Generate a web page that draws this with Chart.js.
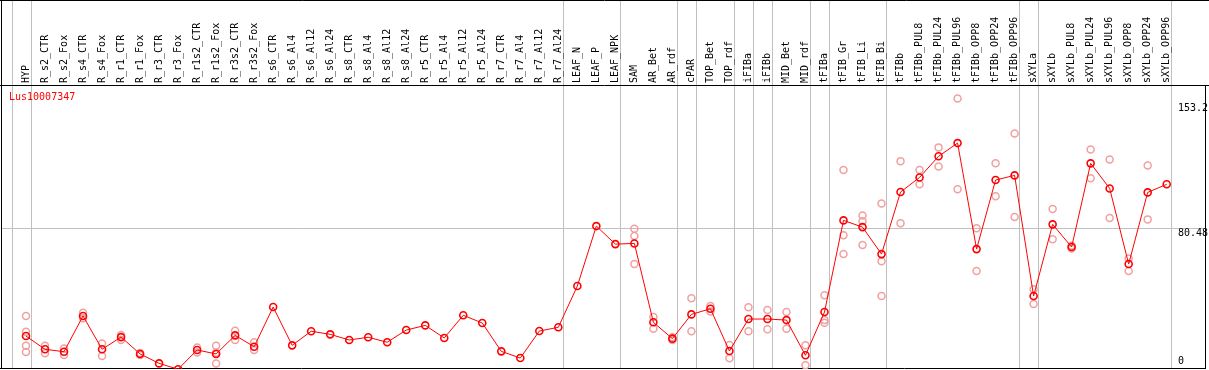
<!DOCTYPE html>
<html>
<head>
<meta charset="utf-8">
<script src="https://cdn.jsdelivr.net/npm/chart.js@4.4.1/dist/chart.umd.min.js"></script>
<style>
  html, body { margin: 0; padding: 0; background: #ffffff; }
  #c { display: block; }
</style>
</head>
<body>
<canvas id="c" width="1209" height="370"></canvas>
<script>
const geneName = "Lus10007347";

const categories = [
  "HYP", "R_s2_CTR", "R_s2_Fox", "R_s4_CTR", "R_s4_Fox", "R_r1_CTR", "R_r1_Fox",
  "R_r3_CTR", "R_r3_Fox", "R_r1s2_CTR", "R_r1s2_Fox", "R_r3s2_CTR", "R_r3s2_Fox",
  "R_s6_CTR", "R_s6_Al4", "R_s6_Al12", "R_s6_Al24", "R_s8_CTR", "R_s8_Al4", "R_s8_Al12",
  "R_s8_Al24", "R_r5_CTR", "R_r5_Al4", "R_r5_Al12", "R_r5_Al24", "R_r7_CTR", "R_r7_Al4",
  "R_r7_Al12", "R_r7_Al24", "LEAF_N", "LEAF_P", "LEAF_NPK", "SAM", "AR_Bet", "AR_rdf",
  "cPAR", "TOP_Bet", "TOP_rdf", "iFIBa", "iFIBb", "MID_Bet", "MID_rdf", "tFIBa",
  "tFIB_Gr", "tFIB_Li", "tFIB_Bi", "tFIBb", "tFIBb_PUL8", "tFIBb_PUL24", "tFIBb_PUL96",
  "tFIBb_OPP8", "tFIBb_OPP24", "tFIBb_OPP96", "sXYLa", "sXYLb", "sXYLb_PUL8",
  "sXYLb_PUL24", "sXYLb_PUL96", "sXYLb_OPP8", "sXYLb_OPP24", "sXYLb_OPP96"
];

const meanValues = [
  17.6, 9.9, 8.5, 29.3, 9.9, 17.0, 7.2, 1.7, -1.7, 9.5, 7.2, 18.0, 11.4,
  34.5, 12.2, 20.4, 18.6, 15.3, 16.9, 14.0, 21.1, 23.8, 16.5, 29.7, 25.2, 8.7, 4.8, 20.5, 22.7,
  46.7, 81.6, 71.1,
  71.5, 25.6, 16.1, 30.2, 33.5, 8.9, 27.5, 27.5, 26.9, 6.4, 31.6,
  84.9, 81.0, 65.3, 101.4, 109.9, 122.2, 129.9, 68.2, 108.4, 111.1,
  40.9, 82.6, 69.4, 118.1, 103.5, 59.5, 101.2, 105.9
];

const replicateValues = [
  [29.3, 20.1, 12.0, 8.3], [12.0, 7.6], [10.3, 6.6], [31.2, 27.9], [13.2, 6.0],
  [18.2, 15.3], [7.8, 6.6], [], [], [11.0, 8.1], [12.0, 7.9, 1.7], [20.7, 15.3], [14.0, 9.5],
  [], [], [], [], [], [], [], [], [], [], [], [], [], [], [], [],
  [], [], [],
  [80.0, 75.8, 59.5], [28.7, 21.9], [16.9, 15.3], [39.6, 20.4], [35.1, 31.9], [12.4, 4.7],
  [34.3, 20.4], [32.8, 21.5], [31.6, 21.9], [12.2, 0.6], [41.3, 26.9, 25.4],
  [114.2, 76.2, 65.3], [87.8, 84.4, 70.6], [94.8, 61.1, 40.9], [119.4, 83.2],
  [114.2, 105.9], [127.4, 116.3], [155.9, 103.0], [80.3, 55.4], [118.1, 98.9], [135.5, 86.9],
  [44.8, 36.2], [91.5, 73.9], [70.2, 68.6], [126.2, 109.4], [120.4, 86.3], [62.8, 55.4],
  [116.9, 85.5], []
];

const yTickValues = [0, 80.48, 153.2];
const yTickLabels = ["0", "80.48", "153.2"];
const yGridValues = [80.48];

// group separators drawn after these category indices (-1 = before first)
const separatorsAfter = [-1, 0, 28, 31, 34, 35, 37, 38, 39, 41, 42, 45, 52, 53, 60];

const repPoints = [];
replicateValues.forEach((arr, i) => {
  arr.forEach(v => repPoints.push({ x: categories[i], y: v }));
});

const FONT = '10px "DejaVu Sans Mono", "Liberation Mono", monospace';

const decor = {
  id: 'decor',
  beforeDraw(chart) {
    const ctx = chart.ctx;
    ctx.save();
    ctx.fillStyle = '#ffffff';
    ctx.fillRect(0, 0, chart.width, chart.height);
    ctx.restore();
  },
  beforeDatasetsDraw(chart) {
    const ctx = chart.ctx;
    const xs = chart.scales.x, ys = chart.scales.y;
    const step = xs.getPixelForValue(1) - xs.getPixelForValue(0);
    ctx.save();
    ctx.strokeStyle = '#c0c0c0';
    ctx.lineWidth = 1;
    yGridValues.forEach(v => {
      const y = Math.round(ys.getPixelForValue(v)) + 0.5;
      ctx.beginPath(); ctx.moveTo(2, y); ctx.lineTo(1205, y); ctx.stroke();
    });
    separatorsAfter.forEach(i => {
      const cx = xs.getPixelForValue(0) + step * i;
      const x = Math.round(cx + 4.6) + 0.5;
      ctx.beginPath(); ctx.moveTo(x, 0); ctx.lineTo(x, 369); ctx.stroke();
    });
    ctx.strokeStyle = '#000000';
    ctx.beginPath();
    ctx.moveTo(0, 0.5); ctx.lineTo(1209, 0.5);
    ctx.moveTo(1.5, 0); ctx.lineTo(1.5, 369);
    ctx.moveTo(0, 85.5); ctx.lineTo(1209, 85.5);
    ctx.moveTo(0, 368.5); ctx.lineTo(1206, 368.5);
    ctx.moveTo(1205.5, 85); ctx.lineTo(1205.5, 369);
    ctx.stroke();
    ctx.restore();
  },
  afterDraw(chart) {
    const ctx = chart.ctx;
    const xs = chart.scales.x, ys = chart.scales.y;
    ctx.save();
    ctx.font = FONT;
    ctx.fillStyle = '#000000';
    categories.forEach((lab, i) => {
      const x = xs.getPixelForValue(i);
      ctx.save();
      ctx.translate(x, 83);
      ctx.rotate(-Math.PI / 2);
      ctx.textAlign = 'left';
      ctx.textBaseline = 'middle';
      ctx.fillText(lab, 0, 0);
      ctx.restore();
    });
    ctx.textAlign = 'left';
    yTickValues.forEach((v, i) => {
      const y = ys.getPixelForValue(v);
      if (y + 10 > chart.chartArea.bottom) {
        ctx.textBaseline = 'bottom';
        ctx.fillText(yTickLabels[i], 1178, y);
      } else {
        ctx.textBaseline = 'top';
        ctx.fillText(yTickLabels[i], 1178, y);
      }
    });
    ctx.fillStyle = '#ff0000';
    ctx.textBaseline = 'middle';
    ctx.fillText(geneName, 9, 97);
    ctx.restore();
  }
};

new Chart(document.getElementById('c'), {
  type: 'line',
  data: {
    labels: categories,
    datasets: [
      {
        label: 'replicates',
        data: repPoints,
        showLine: false,
        pointRadius: 3.5,
        pointBorderWidth: 1.5,
        pointBorderColor: '#f0a0a0',
        pointBackgroundColor: 'rgba(0,0,0,0)',
        borderColor: '#f0a0a0',
        order: 2
      },
      {
        label: 'mean',
        data: meanValues,
        borderColor: '#ff0000',
        borderWidth: 1,
        tension: 0,
        pointRadius: 3.5,
        pointBorderWidth: 1.6,
        pointBorderColor: '#ff0000',
        pointBackgroundColor: 'rgba(0,0,0,0)',
        order: 1
      }
    ]
  },
  options: {
    responsive: false,
    animation: false,
    devicePixelRatio: 1,
    layout: { autoPadding: false, padding: { left: 16.5, right: 32.8, top: 85, bottom: 1 } },
    plugins: { legend: { display: false }, tooltip: { enabled: false } },
    scales: {
      x: { type: 'category', offset: true, display: false },
      y: { type: 'linear', min: -1.57, max: 163.7, display: false }
    }
  },
  plugins: [decor]
});
</script>
</body>
</html>
